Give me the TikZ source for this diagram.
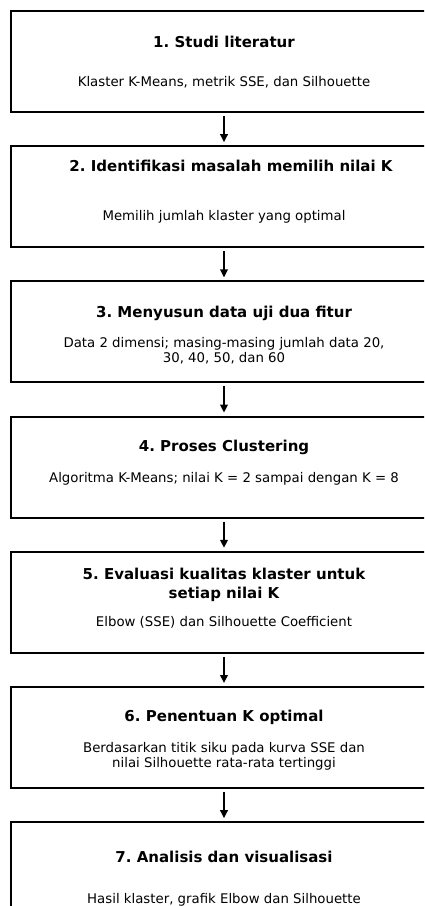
\documentclass[tikz,border=0pt]{standalone}
\usepackage{fontspec}
\setmainfont{DejaVu Sans}
\frenchspacing
\usetikzlibrary{positioning, calc, arrows.meta}
\tikzstyle{Arrow} = [
%arrow from one step to the next
line width = 1.9pt,
-{Triangle[length=8pt, width=7.5pt]},
shorten >= 3pt, shorten <= 3pt
]

\begin{document}
\begin{tikzpicture}[x = 1pt, y = 1pt,
				stepbox/.style = {rectangle, draw, line width = 2pt, minimum width = 426pt, minimum height = 101pt},
				steptitle/.style = {font = \fontsize{15}{18.5}\selectfont\bfseries, align = center, inner sep = 0pt},
				stepdesc/.style = {font = \fontsize{13.3}{15}\selectfont, align = center, inner sep = 0pt},
			]
			\clip (0,0) rectangle (424,-906);

			\node[stepbox](s1) at (224,-61.5){};
			\node[stepbox](s2) at (224,-196.7){};
			\node[stepbox](s3) at (224,-331.9){};
			\node[stepbox](s4) at (224,-467.1){};
			\node[stepbox](s5) at (224,-602.3){};
			\node[stepbox](s6) at (224,-737.5){};
			\node[stepbox](s7) at (224,-872.7){};

			\node[steptitle](t1) at (224,-42){1. Studi literatur};
			\node[stepdesc](d1) at (224,-82){Klaster K-Means, metrik SSE, dan Silhouette};

			\node[steptitle](t2) at (231,-166){2. Identifikasi masalah memilih nilai K};
			\node[stepdesc](d2) at (224,-217){Memilih jumlah klaster yang optimal};

			\node[steptitle](t3) at (224,-313){3. Menyusun data uji dua fitur};
			\node[stepdesc](d3) at (224,-350.5){Data 2 dimensi; masing-masing jumlah data 20,\\30, 40, 50, dan 60};

			\node[steptitle](t4) at (224,-447){4. Proses Clustering};
			\node[stepdesc](d4) at (224,-479){Algoritma K-Means; nilai K = 2 sampai dengan K = 8};

			\node[steptitle](t5) at (224,-585){5. Evaluasi kualitas klaster untuk\\setiap nilai K};
			\node[stepdesc](d5) at (224,-622){Elbow (SSE) dan Silhouette Coefficient};

			\node[steptitle](t6) at (224,-717){6. Penentuan K optimal};
			\node[stepdesc](d6) at (224,-756.5){Berdasarkan titik siku pada kurva SSE dan\\nilai Silhouette rata-rata tertinggi};

			\node[steptitle](t7) at (224,-857){7. Analisis dan visualisasi};
			\node[stepdesc](d7) at (224,-900){Hasil klaster, grafik Elbow dan Silhouette};

			\draw[Arrow](s1)--(s2);
			\draw[Arrow](s2)--(s3);
			\draw[Arrow](s3)--(s4);
			\draw[Arrow](s4)--(s5);
			\draw[Arrow](s5)--(s6);
			\draw[Arrow](s6)--(s7);

		\end{tikzpicture}
\end{document}
